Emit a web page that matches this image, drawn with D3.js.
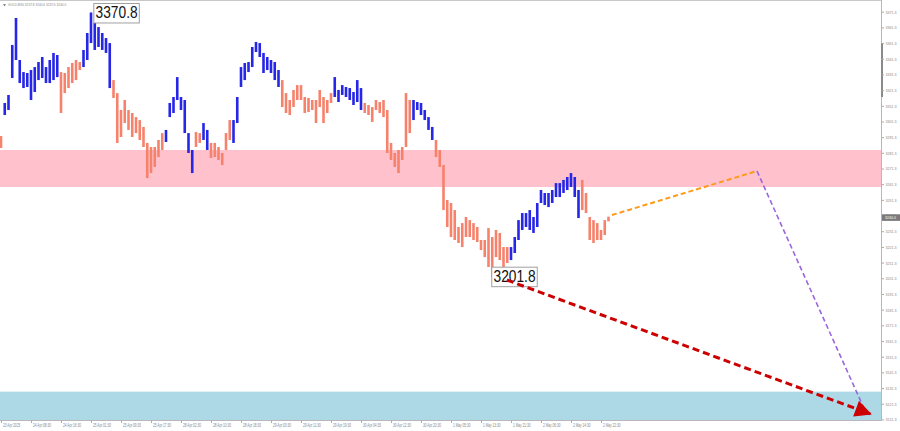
<!DOCTYPE html>
<html><head><meta charset="utf-8">
<script src="https://cdn.jsdelivr.net/npm/d3@7"></script>
<style>html,body{margin:0;padding:0;background:#fff;}svg{display:block;}</style>
</head><body>
<svg id="chart" width="900" height="431"></svg>
<script>
// ---- data (GOLD M30, one entry ≈ two M30 bars) ----
const highs = [3292.0,3313.1,3318.2,3350.1,3367.3,3340.5,3332.8,3332.2,3334.1,3336.0,
3339.2,3342.4,3336.0,3340.5,3345.0,3343.7,3332.8,3332.2,3336.0,3338.6,
3340.5,3339.2,3346.9,3357.7,3370.8,3364.1,3361.5,3357.7,3354.5,3351.3,
3327.7,3319.4,3308.6,3315.0,3308.6,3306.7,3304.1,3302.2,3297.8,3287.6,
3285.0,3285.0,3289.5,3293.9,3295.9,3313.1,3316.9,3329.6,3316.9,3315.0,
3293.9,3283.1,3294.6,3293.9,3300.3,3295.9,3287.6,3287.6,3285.0,3281.2,
3293.9,3302.2,3302.2,3316.9,3336.0,3338.6,3339.2,3348.8,3352.0,3351.3,
3345.0,3342.4,3340.5,3339.2,3334.1,3327.7,3319.4,3315.0,3321.4,3324.5,
3324.5,3316.9,3316.3,3315.0,3315.0,3321.4,3316.9,3315.0,3319.4,3329.6,
3321.4,3324.5,3323.3,3322.6,3320.1,3327.7,3322.6,3313.1,3311.8,3310.5,
3315.0,3313.7,3315.0,3308.6,3287.6,3281.2,3283.1,3285.0,3319.4,3315.0,
3315.0,3313.7,3313.1,3308.6,3304.1,3297.8,3289.5,3283.1,3273.5,3251.2,
3249.3,3244.8,3234.0,3236.5,3240.4,3238.4,3236.5,3234.0,3225.7,3225.7,
3233.3,3227.6,3232.1,3230.2,3221.2,3221.2,3221.2,3227.6,3238.4,3242.9,
3242.9,3244.8,3240.4,3249.3,3257.6,3255.7,3255.7,3257.6,3262.0,3262.0,
3264.0,3265.9,3268.4,3265.9,3257.6,3264.0,3255.7,3240.4,3238.4,3236.5,
3232.1,3238.4,3240.6];
const lows = [3284.4,3305.4,3308.6,3329.0,3340.5,3325.8,3322.6,3323.3,3315.0,3320.1,
3327.7,3329.0,3325.8,3325.8,3327.7,3329.6,3306.7,3319.4,3322.6,3325.8,
3327.7,3334.1,3336.0,3340.5,3351.3,3346.9,3348.8,3346.9,3345.0,3322.6,
3316.3,3287.6,3291.4,3300.3,3295.9,3291.4,3293.9,3289.5,3285.0,3265.2,
3268.4,3272.3,3278.6,3283.1,3288.2,3304.1,3306.7,3315.0,3308.6,3293.9,
3281.2,3268.4,3285.0,3287.6,3289.5,3283.1,3278.0,3278.6,3276.7,3273.5,
3283.1,3289.5,3287.6,3300.3,3323.3,3327.7,3332.8,3336.0,3345.6,3342.4,
3332.2,3334.1,3332.2,3327.7,3323.3,3310.5,3306.7,3305.4,3310.5,3315.0,
3315.0,3306.7,3307.3,3308.6,3300.3,3310.5,3300.3,3306.7,3313.1,3316.9,
3313.7,3318.2,3316.9,3315.0,3311.8,3313.7,3308.6,3306.7,3305.4,3301.0,
3308.6,3306.7,3304.1,3281.2,3276.7,3272.3,3268.4,3276.7,3285.0,3293.9,
3302.2,3308.6,3305.4,3302.2,3295.9,3289.5,3278.6,3272.3,3244.8,3234.0,
3227.6,3225.7,3223.8,3221.2,3227.6,3227.6,3225.7,3224.4,3219.3,3214.8,
3208.5,3201.8,3214.8,3212.9,3206.6,3211.0,3212.9,3217.4,3225.7,3232.1,
3234.0,3232.1,3230.2,3234.0,3249.3,3248.0,3246.7,3249.3,3253.1,3253.1,
3255.7,3257.6,3259.5,3253.1,3239.7,3244.8,3242.9,3225.7,3223.8,3225.7,
3225.7,3228.9,3237.6];
const waveStarts = [0,1,16,22,30,44,52,54,56,62,75,89,97,110,116,136,155];
const waveDirs = ["down","up","down","up","down","up","down","up","down","up","down","up","down","up","down","up","down"];

const timeLabels = ["23 Apr 2025","24 Apr 08:30","24 Apr 16:30","25 Apr 01:30","25 Apr 09:30","25 Apr 17:30",
"28 Apr 02:30","28 Apr 10:30","28 Apr 18:30","29 Apr 03:30","29 Apr 11:30","29 Apr 19:30",
"30 Apr 04:30","30 Apr 12:30","30 Apr 20:30","1 May 05:30","1 May 13:30","1 May 21:30",
"2 May 06:30","2 May 14:30","2 May 22:30"];
const timeLabelIdx = [0,8,16,24,32,40,48,56,64,72,80,88,96,104,112,120,128,136,144,152,160];
const priceTicks = [3111.3,3121.3,3131.3,3141.3,3151.3,3161.3,3171.3,3181.3,3191.3,3201.3,3211.3,
3221.3,3231.3,3241.3,3251.3,3261.3,3271.3,3281.3,3291.3,3301.3,3311.3,3321.3,3331.3,3341.3,3351.3,3361.3,3371.3];

const pinkZone = [3259.5, 3283.1];
const blueZone = [3110.0, 3129.0];
const orangeIdx = [162.9, 201.6], orangePrice = [3241.6, 3269.7];
const purpleIdx = [201.6, 230.1], purplePrice = [3269.7, 3118.5];
const redIdx = [134.9, 231.8], redPrice = [3200.2, 3114.8];
const peakIdx = 24, peakPrice = 3370.8;
const troughIdx = 131, troughPrice = 3201.8;
const header = "GOLD,M30  3237.8 3240.6 3237.6 3240.0";
const lastPrice = 3240.0;

// ---- layout ----
const plotRight = 881.5, plotBottom = 420.5;
const svg = d3.select("#chart");
const x = d3.scaleLinear().domain([0, 100]).range([1, 376]);
const y = d3.scaleLinear().domain([3111.3, 3371.3]).range([419.4, 11.7]);
const colors = {up: "#2626e6", down: "#f7826c"};
function dirOf(i){ let d = waveDirs[0]; waveStarts.forEach((s,k)=>{ if(i>=s) d = waveDirs[k]; }); return d; }

// zones
svg.append("rect").attr("x",0).attr("width",plotRight).attr("y",y(pinkZone[1])).attr("height",y(pinkZone[0])-y(pinkZone[1])).attr("fill","#ffc1cc");
svg.append("rect").attr("x",0).attr("width",plotRight).attr("y",y(blueZone[1])).attr("height",plotBottom-y(blueZone[1])).attr("fill","#add8e6");

// bars
svg.append("g").selectAll("line").data(highs).join("line")
  .attr("x1",(d,i)=>x(i)).attr("x2",(d,i)=>x(i))
  .attr("y1",d=>y(d)).attr("y2",(d,i)=>y(lows[i]))
  .attr("stroke",(d,i)=>colors[dirOf(i)]).attr("stroke-width",2.6);

// value labels
function valueLabel(px, py, txt){
  const g = svg.append("g");
  g.append("rect").attr("x",px).attr("y",py).attr("width",45.5).attr("height",19.5)
    .attr("fill","#fff").attr("stroke","#a0a0a0").attr("stroke-width",1);
  g.append("text").attr("x",px+1.8).attr("y",py+15).attr("font-family","Liberation Sans, Arial, sans-serif")
    .attr("font-size",16.5).attr("fill","#111").attr("textLength",42).attr("lengthAdjust","spacingAndGlyphs").text(txt);
}
valueLabel(x(peakIdx)+2.8, y(peakPrice)-9, peakPrice.toFixed(1));
valueLabel(x(troughIdx)-0.5, y(troughPrice)-10.3, troughPrice.toFixed(1));

// arrow marker
svg.append("defs").append("marker").attr("id","arr").attr("viewBox","0 0 10 10")
  .attr("refX",9).attr("refY",5).attr("markerWidth",6.2).attr("markerHeight",5.6)
  .attr("orient","auto").attr("markerUnits","strokeWidth")
  .append("path").attr("d","M0,0 L10,5 L0,10 Z").attr("fill","#cc0000");

// projections
const line = d3.line().x(d=>x(d[0])).y(d=>y(d[1]));
svg.append("path").attr("d",line([[orangeIdx[0],orangePrice[0]],[orangeIdx[1],orangePrice[1]]]))
  .attr("stroke","#ff9a1a").attr("stroke-width",2).attr("stroke-dasharray","5,3").attr("fill","none");
svg.append("path").attr("d",line([[purpleIdx[0],purplePrice[0]],[purpleIdx[1],purplePrice[1]]]))
  .attr("stroke","#9966dd").attr("stroke-width",1.6).attr("stroke-dasharray","5,3").attr("fill","none");
svg.append("path").attr("d",line([[redIdx[0],redPrice[0]],[redIdx[1],redPrice[1]]]))
  .attr("stroke","#cc0000").attr("stroke-width",3).attr("stroke-dasharray","7,4").attr("fill","none")
  .attr("marker-end","url(#arr)");

// frame
svg.append("line").attr("x1",0).attr("x2",plotRight).attr("y1",0.5).attr("y2",0.5).attr("stroke","#c8c8c8");
svg.append("line").attr("x1",plotRight).attr("x2",plotRight).attr("y1",0).attr("y2",plotBottom).attr("stroke","#b8b8b8");
svg.append("line").attr("x1",0).attr("x2",plotRight).attr("y1",plotBottom).attr("y2",plotBottom).attr("stroke","#b8b8b8");
svg.append("rect").attr("x",plotRight-0.5).attr("y",43).attr("width",2).attr("height",54).attr("fill","#8a8a8a");

// right axis
const ya = svg.append("g").attr("transform",`translate(${plotRight},0)`)
  .call(d3.axisRight(y).tickValues(priceTicks).tickSize(2.5).tickFormat(d3.format(".1f")));
ya.select(".domain").remove();
ya.selectAll("line").attr("stroke","#aaa");
ya.selectAll("text").attr("x",4).attr("font-size",4.4).attr("fill","#888")
  .attr("font-family","Liberation Sans, Arial, sans-serif").attr("textLength",11).attr("lengthAdjust","spacingAndGlyphs");

// current price tag
svg.append("rect").attr("x",plotRight+0.5).attr("y",y(lastPrice)-3.3).attr("width",18).attr("height",6.6).attr("fill","#7a7a7a");
svg.append("text").attr("x",plotRight+3.5).attr("y",y(lastPrice)+1.6).attr("font-size",4.4).attr("fill","#fff")
  .attr("font-family","Liberation Sans, Arial, sans-serif").attr("textLength",11).attr("lengthAdjust","spacingAndGlyphs").text(lastPrice.toFixed(1));

// bottom axis
const xa = svg.append("g").attr("transform",`translate(0,${plotBottom})`)
  .call(d3.axisBottom(x).tickValues(timeLabelIdx).tickSize(2.5).tickFormat((d,i)=>timeLabels[i]));
xa.select(".domain").remove();
xa.selectAll("line").attr("stroke","#aaa");
xa.selectAll("text").attr("text-anchor","start").attr("x",1.5).attr("dy",0).attr("y",6.8)
  .attr("font-size",4.7).attr("fill","#888").attr("font-family","Liberation Sans, Arial, sans-serif")
  .each(function(){ const w = this.getComputedTextLength(); d3.select(this).attr("textLength",w*0.68).attr("lengthAdjust","spacingAndGlyphs"); });

// header
svg.append("path").attr("d","M3,4.2 L6,4.2 L4.5,6.2 Z").attr("fill","#666");
svg.append("text").attr("x",8).attr("y",6.4).attr("font-size",4.4).attr("fill","#888")
  .attr("font-family","Liberation Sans, Arial, sans-serif").text(header)
  .each(function(){ const w = this.getComputedTextLength(); d3.select(this).attr("textLength",w*0.72).attr("lengthAdjust","spacingAndGlyphs"); });
</script>
</body></html>
